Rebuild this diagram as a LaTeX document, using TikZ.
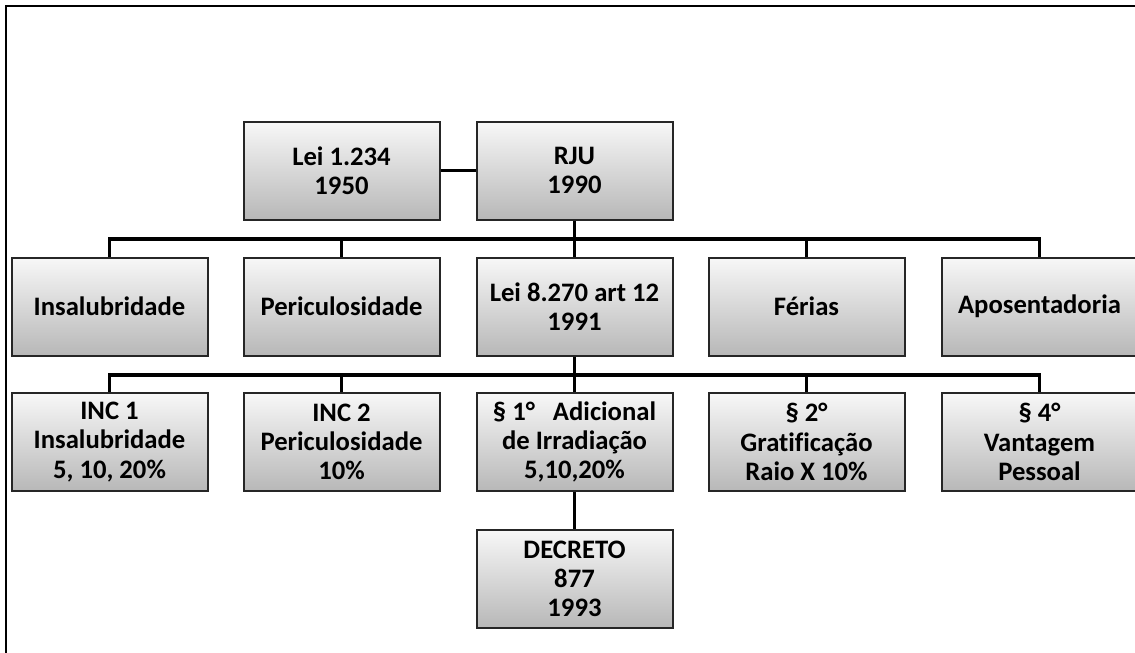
\documentclass[tikz,border=0pt]{standalone}
\usepackage{fontspec}
\setmainfont{Carlito}[Ligatures=NoCommon]
\usetikzlibrary{shadows}

\tikzset{
  lawbox/.style={draw=black!85, line width=1.5pt, top color=black!3, bottom color=black!28,
    minimum width=147pt, minimum height=73.5pt, align=center, inner sep=2pt,
    font=\fontsize{20}{22}\selectfont\bfseries,
    drop shadow={shadow xshift=1pt, shadow yshift=-1pt, opacity=0.3}},
  link/.style={line width=2.5pt},
}

\begin{document}
\begin{tikzpicture}[x=0.75pt, y=-0.75pt]
      \fill[white] (0,0) rectangle (1135,653);
      \useasboundingbox (0,0) rectangle (1135,653);
      \draw[line width=2.2pt] (6,660) -- (6,6) -- (1140,6);

      % top
      \node[lawbox] (lei1234) at (341.5,170.5) {Lei 1.234\\1950};
      \node[lawbox] (rju) at (574.5,170.5) {RJU\\1990};

      % second row
      \node[lawbox] (insal) at (109.5,306.5) {Insalubridade};
      \node[lawbox] (peric) at (341.5,306.5) {Periculosidade};
      \node[lawbox] (lei8270) at (574.5,306.5) {Lei 8.270 art 12\\1991};
      \node[lawbox] (ferias) at (806.5,306.5) {Férias};
      \node[lawbox] (apos) at (1039.5,306.5) {Aposentadoria};

      % third row
      \node[lawbox] (inc1) at (109.5,442) {INC 1\\Insalubridade\\5, 10, 20\%};
      \node[lawbox] (inc2) at (341.5,442) {INC 2\\Periculosidade\\10\%};
      \node[lawbox] (par1) at (574.5,442) {§ 1°\ \ \ Adicional\\de Irradiação\\5,10,20\%};
      \node[lawbox] (par2) at (806.5,442) {§ 2°\\Gratificação\\Raio X 10\%};
      \node[lawbox] (par4) at (1039.5,442) {§ 4°\\Vantagem\\Pessoal};

      \node[lawbox] (decreto) at (574.5,579) {DECRETO\\877\\1993};

      \coordinate (bus1) at (574.5,239);
      \coordinate (bus2) at (574.5,375);

      \draw[link] (lei1234) -- (rju);
      \draw[link] (rju) -- (lei8270);
      \draw[link] (insal.north) |- (bus1) -| (apos.north);
      \draw[link] (peric.north) -- (peric.north |- bus1);
      \draw[link] (ferias.north) -- (ferias.north |- bus1);

      \draw[link] (lei8270) -- (par1);
      \draw[link] (inc1.north) |- (bus2) -| (par4.north);
      \draw[link] (inc2.north) -- (inc2.north |- bus2);
      \draw[link] (par2.north) -- (par2.north |- bus2);
      \draw[link] (par1) -- (decreto);
\end{tikzpicture}
\end{document}
